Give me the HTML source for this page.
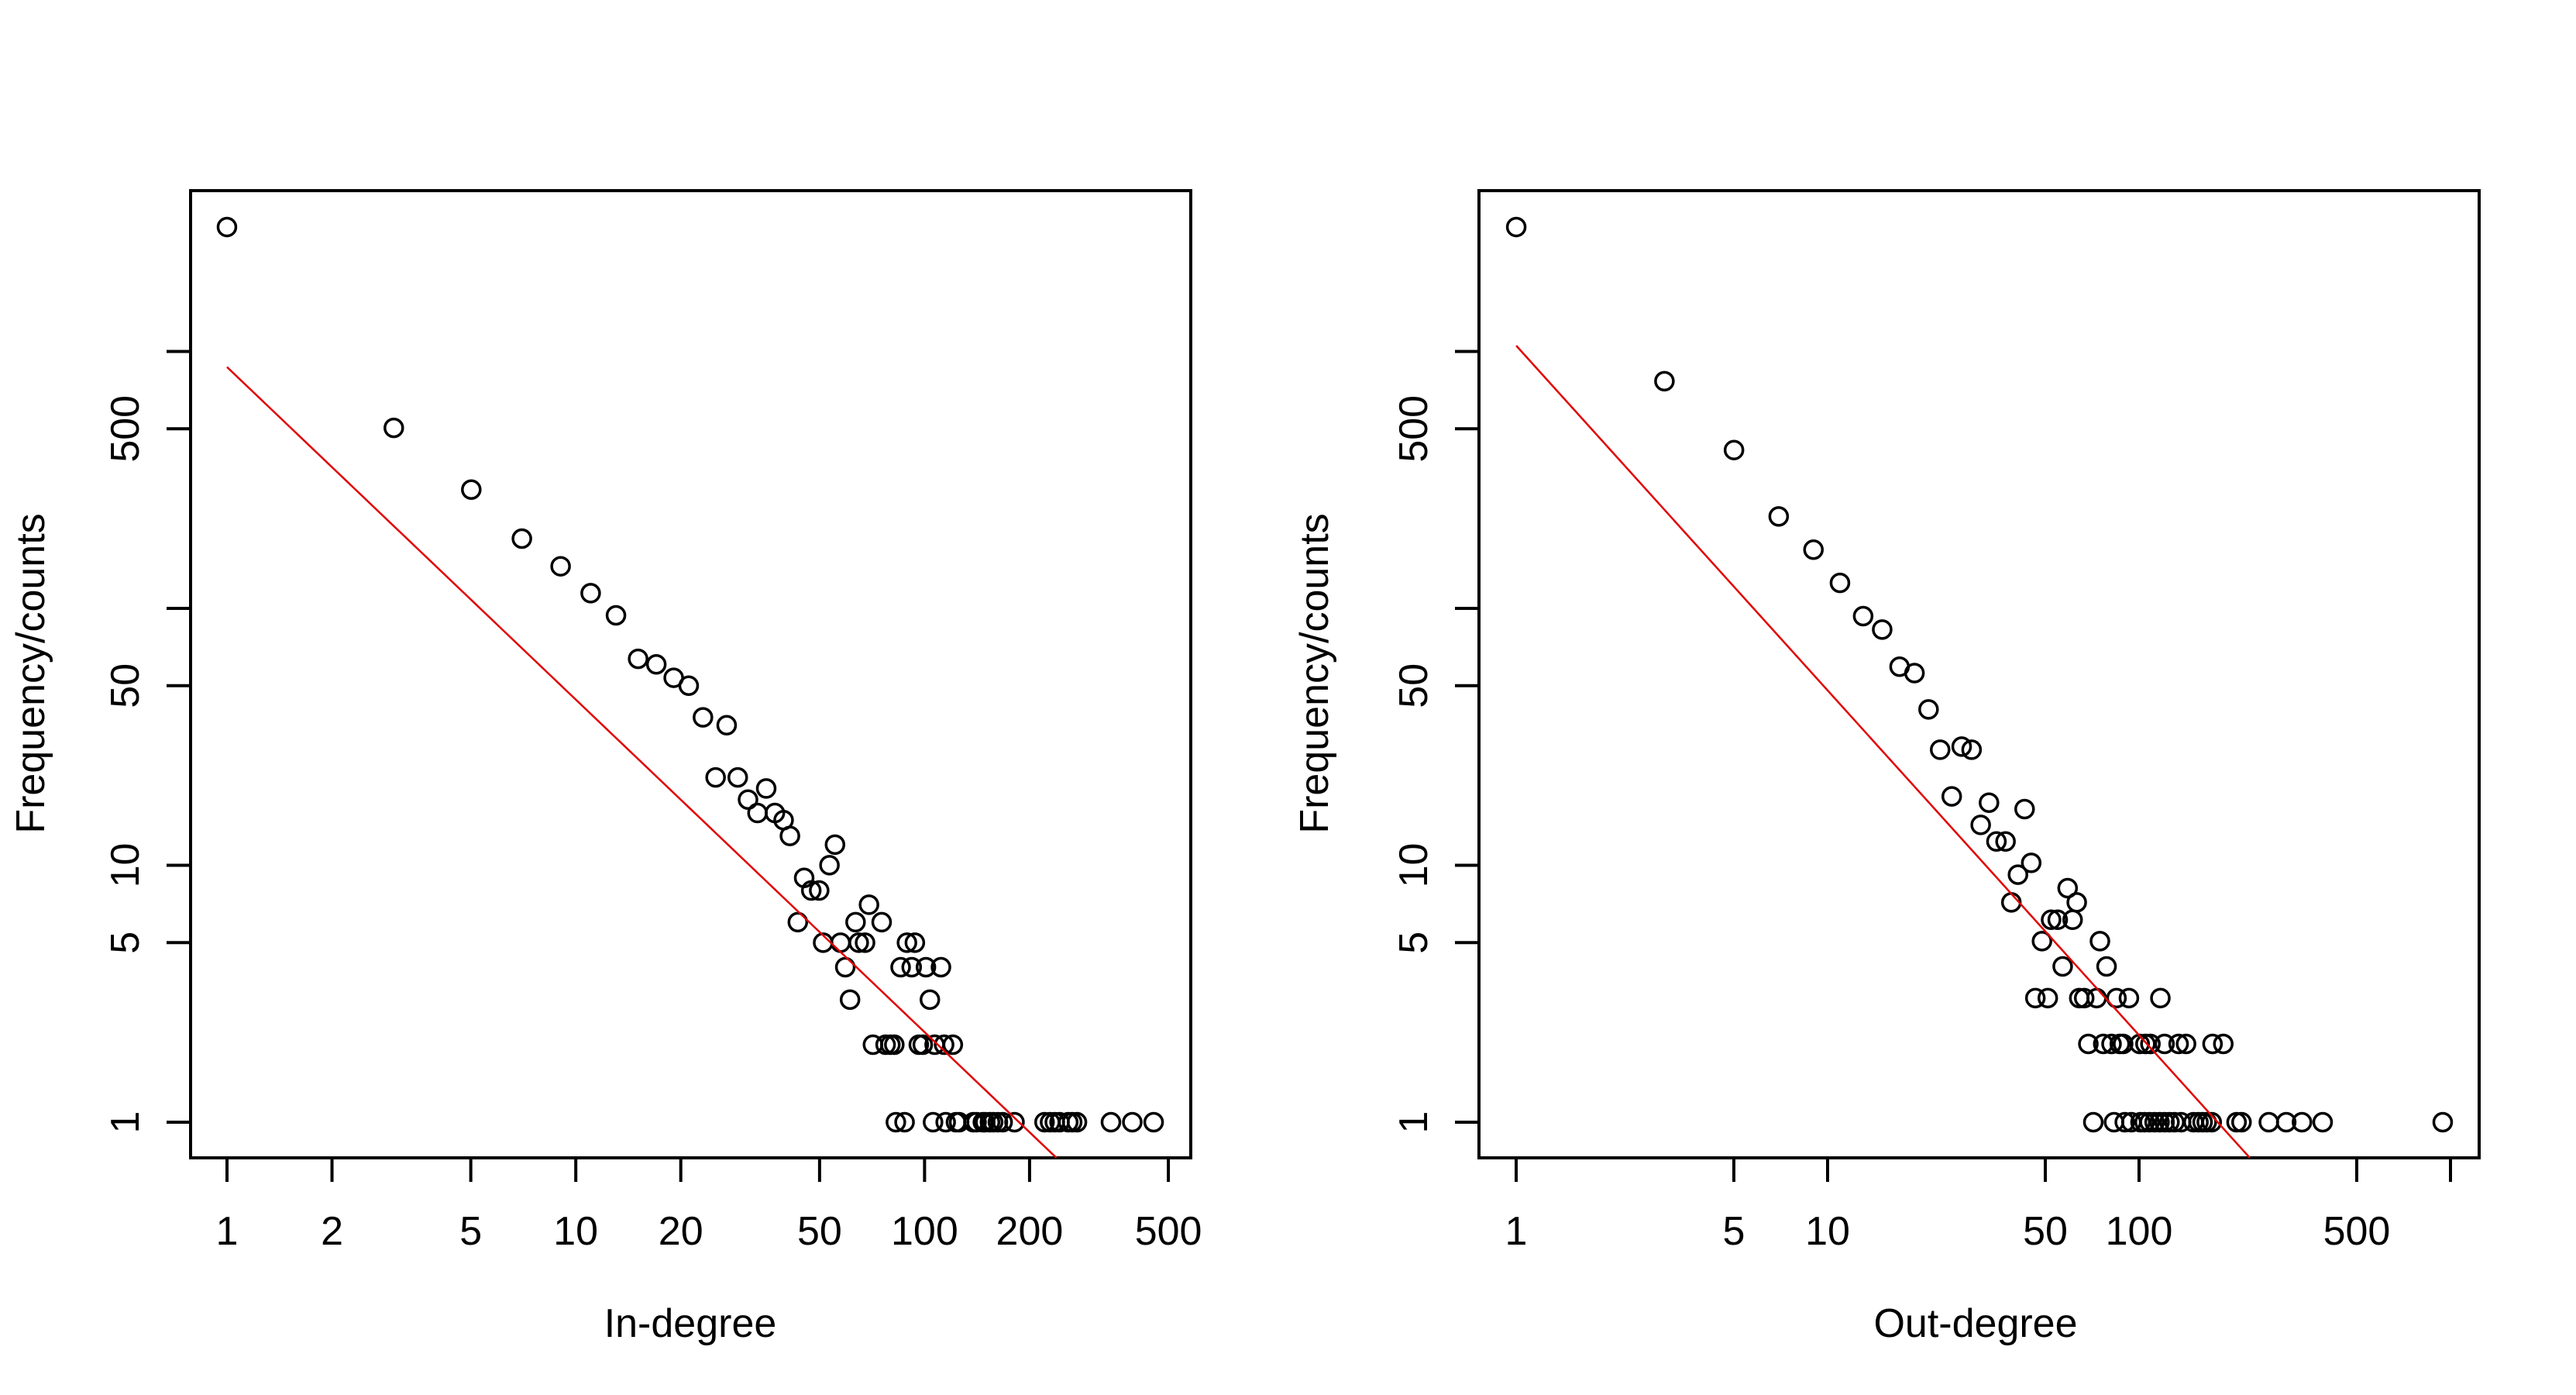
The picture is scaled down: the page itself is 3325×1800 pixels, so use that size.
<!DOCTYPE html>
<html><head><meta charset="utf-8"><style>html,body{margin:0;padding:0;background:#fff}svg{display:block}text{font-family:"Liberation Sans",Arial,sans-serif;font-size:52px;fill:#000}</style></head>
<body>
<svg id="s" xmlns="http://www.w3.org/2000/svg" width="3325" height="1800" viewBox="0 0 3325 1800">
<rect x="246" y="246" width="1291" height="1248" fill="none" stroke="#000" stroke-width="4"/>
<rect x="1909" y="246" width="1291" height="1248" fill="none" stroke="#000" stroke-width="4"/>
<text x="891" y="1725" text-anchor="middle">In-degree</text>
<text x="2550" y="1725" text-anchor="middle">Out-degree</text>
<text transform="translate(57,869) rotate(-90)" text-anchor="middle">Frequency/counts</text>
<text transform="translate(1714,869) rotate(-90)" text-anchor="middle">Frequency/counts</text>
<g id="g"></g>
</svg>
<script>
var NS="http://www.w3.org/2000/svg",g=document.getElementById("g");
function el(t,a,txt){var e=document.createElementNS(NS,t);for(var k in a)e.setAttribute(k,a[k]);if(txt)e.textContent=txt;g.appendChild(e);}
var Y1=1448,DY=331.5;
function yv(v){return Y1-Math.log10(v)*DY;}
[246,1909].forEach(function(bx){
 el("line",{x1:bx,y1:yv(1),x2:bx,y2:yv(1000),stroke:"#000","stroke-width":4});
 [1,5,10,50,100,500,1000].forEach(function(v){el("line",{x1:bx-31,y1:yv(v),x2:bx,y2:yv(v),stroke:"#000","stroke-width":4});});
 [1,5,10,50,500].forEach(function(v){var y=yv(v);el("text",{transform:"translate("+(bx-67)+","+y+") rotate(-90)","text-anchor":"middle"},""+v);});
});
function xa(x1,dec,ticks,labels){
 el("line",{x1:x1,y1:1494,x2:x1+Math.log10(ticks[ticks.length-1])*dec,y2:1494,stroke:"#000","stroke-width":4});
 ticks.forEach(function(v){var x=x1+Math.log10(v)*dec;el("line",{x1:x,y1:1494,x2:x,y2:1525,stroke:"#000","stroke-width":4});});
 labels.forEach(function(v){var x=x1+Math.log10(v)*dec;el("text",{x:x,y:1606,"text-anchor":"middle"},""+v);});
}
xa(293,450.2,[1,2,5,10,20,50,100,200,500],[1,2,5,10,20,50,100,200,500]);
xa(1957,402,[1,5,10,50,100,500,1000],[1,5,10,50,100,500]);
function L(p){return [246+(p[0]-241)*1.0206,246+(p[1]-44)*1.0204];}
function R(p){return [1909+(p[0]-242)*1.0687,246+(p[1]-44)*1.0204];}
var lp=[[287,90],[498,344],[596,422],[660,484],[709,519],[747,553],[779,581],[807,636],[830,643],[852,660],[871,670],[889,710],[919,720],[905,786],[933,786],[946,814],[958,831],[969,800],[980,831],[991,840],[999,860],[1056,871],[1049,897],[1017,913],[1026,929],[1036,929],[1009,969],[1082,969],[1099,947],[1115,969],[1041,995],[1063,995],[1086,995],[1094,995],[1069,1026],[1075,1067],[1139,1026],[1153,1026],[1171,1026],[1190,1026],[1147,995],[1157,995],[1176,1067],[1104,1124],[1120,1124],[1126,1124],[1131,1124],[1162,1124],[1167,1124],[1182,1124],[1194,1124],[1205,1124],[1133,1222],[1144,1222],[1180,1222],[1196,1222],[1209,1222],[1213,1222],[1231,1222],[1235,1222],[1243,1222],[1246,1222],[1252,1222],[1256,1222],[1262,1222],[1268,1222],[1283,1222],[1321,1222],[1328,1222],[1334,1222],[1340,1222],[1351,1222],[1356,1222],[1362,1222],[1405,1222],[1432,1222],[1459,1222]];
var rp=[[287,90],[466,285],[550,372],[604,456],[646,498],[678,540],[706,582],[729,599],[750,646],[768,654],[785,700],[799,751],[825,747],[837,751],[813,810],[848,846],[858,818],[867,867],[878,867],[901,826],[909,894],[893,909],[885,944],[922,993],[933,966],[941,966],[947,1025],[953,926],[959,966],[964,944],[992,993],[1000,1025],[914,1065],[929,1065],[967,1065],[973,1065],[988,1065],[1012,1065],[1027,1065],[1065,1065],[978,1123],[996,1123],[1006,1123],[1016,1123],[1020,1123],[1040,1123],[1047,1123],[1053,1123],[1070,1123],[1087,1123],[1096,1123],[1128,1123],[1141,1123],[984,1222],[1009,1222],[1022,1222],[1030,1222],[1041,1222],[1046,1222],[1052,1222],[1058,1222],[1064,1222],[1070,1222],[1076,1222],[1082,1222],[1090,1222],[1105,1222],[1111,1222],[1116,1222],[1121,1222],[1127,1222],[1157,1222],[1163,1222],[1196,1222],[1217,1222],[1236,1222],[1261,1222],[1406,1222]];
lp.forEach(function(p){var q=L(p);el("circle",{cx:q[0],cy:q[1],r:11.5,fill:"none",stroke:"#000","stroke-width":3.5});});
rp.forEach(function(p){var q=R(p);el("circle",{cx:q[0],cy:q[1],r:11.5,fill:"none",stroke:"#000","stroke-width":3.5});});
var a=L([287,267]),b=L([1336,1267]);el("line",{x1:a[0],y1:a[1],x2:b[0],y2:b[1],stroke:"#e00000","stroke-width":2.5});
a=R([287,240]);b=R([1173,1267]);el("line",{x1:a[0],y1:a[1],x2:b[0],y2:b[1],stroke:"#e00000","stroke-width":2.5});
</script>
</body></html>
